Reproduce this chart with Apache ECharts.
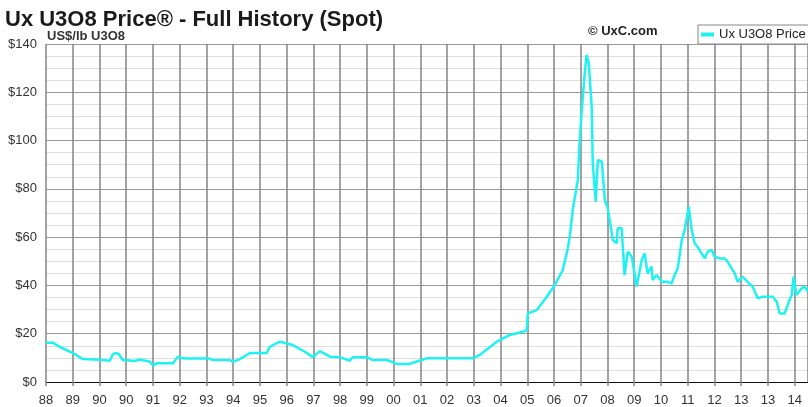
<!DOCTYPE html>
<html>
<head>
<meta charset="utf-8">
<script src="https://cdn.jsdelivr.net/npm/echarts@6/dist/echarts.min.js"></script>
<style>
  html, body { margin: 0; padding: 0; background: #fff; overflow: hidden; }
  #chart { width: 808px; height: 407px; }
</style>
</head>
<body>
<div id="chart"></div>
<script>
// axis tick labels, as printed on the original (one per vertical grid line)
var tickLabels = ['88','89','90','90','91','92','93','94','95','96','97','98','99','00',
                  '01','02','03','04','05','06','07','08','09','10','11','12','13','13','14'];

// position along the x axis, in tick steps from the first label
var period = [0,0.26,0.52,1.01,1.38,2.02,2.39,2.5,2.62,2.73,2.88,3.03,3.33,3.51,3.89,4,4.15,4.75,
  4.93,5.12,5.27,6.13,6.24,6.88,6.99,7.25,7.63,8.26,8.37,8.75,9.23,9.76,9.98,10.24,10.62,10.99,
  11.36,11.48,12,12.22,12.75,13.12,13.61,13.87,14.24,14.73,15.96,16.22,16.86,17.35,17.83,17.98,
  18.02,18.36,18.73,19.03,19.33,19.51,19.59,19.7,19.89,19.96,20.04,20.15,20.22,20.3,20.41,20.45,
  20.56,20.64,20.79,20.9,21.01,21.2,21.35,21.38,21.53,21.64,21.76,21.91,22.09,22.28,22.39,22.5,
  22.65,22.69,22.84,23.03,23.21,23.4,23.51,23.63,23.78,23.89,24.04,24.15,24.26,24.37,24.52,24.64,
  24.75,24.9,25.01,25.2,25.38,25.5,25.76,25.87,26.06,26.24,26.43,26.62,26.8,27.18,27.33,27.44,
  27.63,27.74,27.89,27.96,28.07,28.26,28.37,28.49];

// spot price, US$/lb U3O8
var price = [16.3,16.3,14.5,12,9.5,9.2,8.8,11.5,12,11.5,9,9,8.7,9.3,8.4,6.8,7.8,7.8,
  10.5,9.8,9.7,9.7,9.1,9.1,8.3,9.5,12,12,14.6,16.7,15.3,12,10.3,12.8,10.5,10.3,
  8.8,10.3,10.3,9.1,9.1,7.5,7.5,8.5,9.8,9.8,9.8,11.2,16.7,19.5,20.8,21.5,
  28.4,29.8,35.3,40.2,46.4,55,60.2,71.2,83.7,100,112.7,127.9,135.5,132,114,90.6,
  74.7,92,91.3,75.4,72,58.8,57.5,63.7,63.7,44.3,54,51.9,39.5,50.5,53.3,45,
  47.8,42.3,44.3,41.5,41.5,40.9,44.3,47.1,58.8,63,72.6,63,57.5,56,53.3,51.2,
  54,54.7,51.9,51.2,51.2,49.8,45,41.5,43.6,41.5,39.5,34.7,35.3,35.3,33.3,28.4,
  28.4,31.9,36,43.6,36,38.8,39.5,37.4];

var chart = echarts.init(document.getElementById('chart'));
var font = 'Liberation Sans, Arial, sans-serif';

var option = {
  backgroundColor: '#ffffff',
  animation: false,
  title: [
    {
      text: 'Ux U3O8 Price® - Full History (Spot)',
      left: 0, top: 4,
      textStyle: { fontFamily: font, fontSize: 22, fontWeight: 'bold', color: '#1a1a1a' }
    },
    {
      text: 'US$/lb U3O8',
      left: 42, top: 25,
      textStyle: { fontFamily: font, fontSize: 13, fontWeight: 'bold', color: '#333' }
    },
    {
      text: '© UxC.com',
      left: 583, top: 20,
      textStyle: { fontFamily: font, fontSize: 13, fontWeight: 'bold', color: '#222' }
    }
  ],
  legend: {
    left: 698, top: 25,
    padding: [3, 6, 3, 3],
    borderColor: '#888',
    borderWidth: 1,
    icon: 'rect',
    itemWidth: 13,
    itemHeight: 4,
    itemGap: 4,
    textStyle: { fontFamily: font, fontSize: 13, color: '#222' },
    data: ['Ux U3O8 Price']
  },
  grid: { left: 46, right: 0, top: 44, bottom: 25 },
  xAxis: {
    type: 'value',
    min: 0,
    max: 28.5,
    interval: 1,
    axisLine: { show: true, lineStyle: { color: '#111', width: 1.2 } },
    axisTick: { show: true, length: 4, lineStyle: { color: '#888', width: 1.5 } },
    axisLabel: {
      margin: 12,
      fontFamily: font, fontSize: 13, color: '#333',
      showMaxLabel: false,
      formatter: function (v) { return tickLabels[v] !== undefined ? tickLabels[v] : ''; }
    },
    splitLine: { show: true, lineStyle: { color: '#858585', width: 1.5 } }
  },
  yAxis: {
    type: 'value',
    min: 0,
    max: 140,
    interval: 20,
    axisLine: { show: false },
    axisTick: { show: false },
    minorTick: { show: false, splitNumber: 4 },
    axisLabel: {
      margin: 9,
      fontFamily: font, fontSize: 13, color: '#333',
      formatter: '${value}'
    },
    splitLine: { show: true, lineStyle: { color: '#9a9a9a', width: 1 } },
    minorSplitLine: { show: true, lineStyle: { color: '#dedede', width: 1 } }
  },
  series: [
    {
      name: 'Ux U3O8 Price',
      type: 'line',
      data: period.map(function (p, i) { return [p, price[i]]; }),
      showSymbol: false,
      smooth: false,
      color: '#1ff2f2',
      lineStyle: { color: '#1ff2f2', width: 2.5 }
    }
  ]
};
chart.setOption(option);
</script>
</body>
</html>
